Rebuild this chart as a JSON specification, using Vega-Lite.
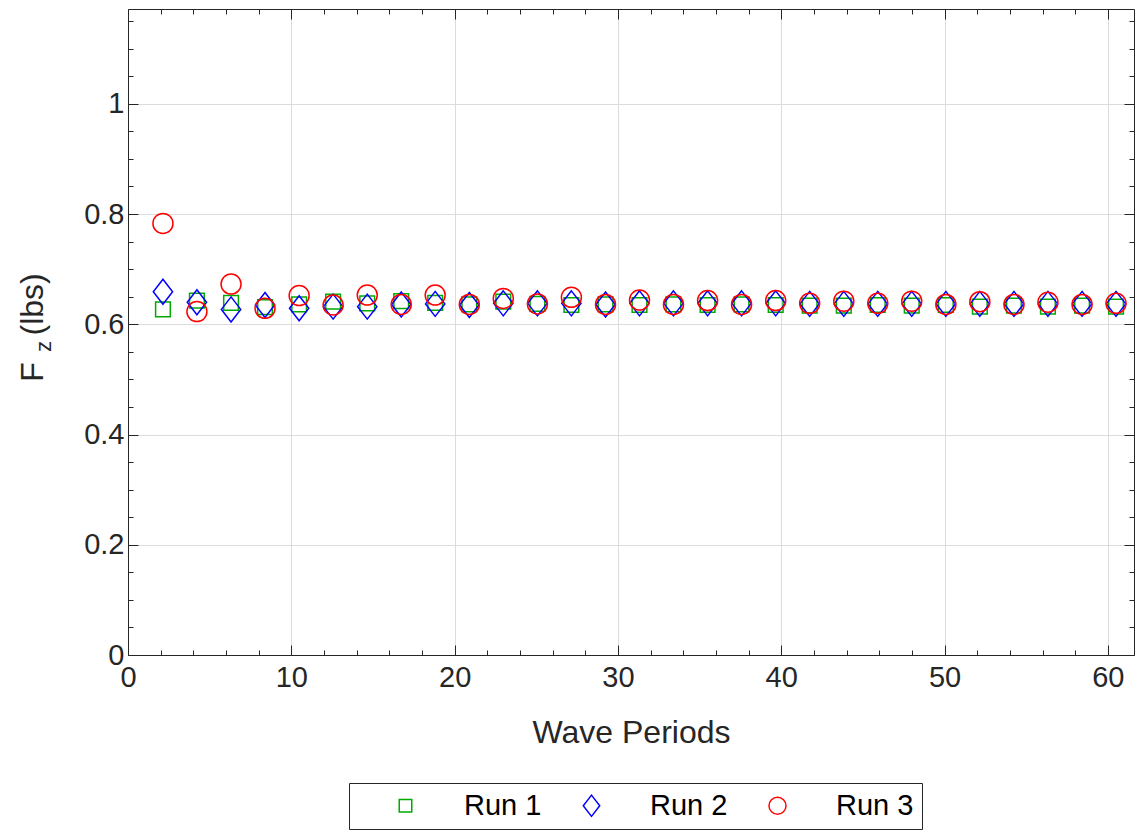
{
  "$schema": "https://vega.github.io/schema/vega-lite/v6.json",
  "width": 1006,
  "height": 646,
  "autosize": "none",
  "padding": {"left": 128, "top": 9, "right": 1, "bottom": 176},
  "background": "white",
  "config": {"font": "Liberation Sans", "view": {"stroke": null}},
  "datasets": {
    "runs": [
      {"period": 2.14, "run": "Run 1", "fz": 0.627}, {"period": 4.22, "run": "Run 1", "fz": 0.643}, {"period": 6.31, "run": "Run 1", "fz": 0.639}, {"period": 8.39, "run": "Run 1", "fz": 0.631}, {"period": 10.48, "run": "Run 1", "fz": 0.636}, {"period": 12.56, "run": "Run 1", "fz": 0.641}, {"period": 14.65, "run": "Run 1", "fz": 0.638}, {"period": 16.73, "run": "Run 1", "fz": 0.642}, {"period": 18.81, "run": "Run 1", "fz": 0.639}, {"period": 20.90, "run": "Run 1", "fz": 0.636}, {"period": 22.98, "run": "Run 1", "fz": 0.641}, {"period": 25.07, "run": "Run 1", "fz": 0.637}, {"period": 27.15, "run": "Run 1", "fz": 0.635}, {"period": 29.24, "run": "Run 1", "fz": 0.636}, {"period": 31.32, "run": "Run 1", "fz": 0.635}, {"period": 33.40, "run": "Run 1", "fz": 0.636}, {"period": 35.49, "run": "Run 1", "fz": 0.635}, {"period": 37.57, "run": "Run 1", "fz": 0.636}, {"period": 39.66, "run": "Run 1", "fz": 0.635}, {"period": 41.74, "run": "Run 1", "fz": 0.634}, {"period": 43.83, "run": "Run 1", "fz": 0.634}, {"period": 45.91, "run": "Run 1", "fz": 0.635}, {"period": 47.99, "run": "Run 1", "fz": 0.634}, {"period": 50.08, "run": "Run 1", "fz": 0.635}, {"period": 52.16, "run": "Run 1", "fz": 0.632}, {"period": 54.25, "run": "Run 1", "fz": 0.634}, {"period": 56.33, "run": "Run 1", "fz": 0.632}, {"period": 58.42, "run": "Run 1", "fz": 0.634}, {"period": 60.50, "run": "Run 1", "fz": 0.632},
      {"period": 2.14, "run": "Run 2", "fz": 0.659}, {"period": 4.22, "run": "Run 2", "fz": 0.640}, {"period": 6.31, "run": "Run 2", "fz": 0.627}, {"period": 8.39, "run": "Run 2", "fz": 0.635}, {"period": 10.48, "run": "Run 2", "fz": 0.629}, {"period": 12.56, "run": "Run 2", "fz": 0.632}, {"period": 14.65, "run": "Run 2", "fz": 0.632}, {"period": 16.73, "run": "Run 2", "fz": 0.636}, {"period": 18.81, "run": "Run 2", "fz": 0.637}, {"period": 20.90, "run": "Run 2", "fz": 0.635}, {"period": 22.98, "run": "Run 2", "fz": 0.638}, {"period": 25.07, "run": "Run 2", "fz": 0.638}, {"period": 27.15, "run": "Run 2", "fz": 0.638}, {"period": 29.24, "run": "Run 2", "fz": 0.636}, {"period": 31.32, "run": "Run 2", "fz": 0.638}, {"period": 33.40, "run": "Run 2", "fz": 0.638}, {"period": 35.49, "run": "Run 2", "fz": 0.638}, {"period": 37.57, "run": "Run 2", "fz": 0.638}, {"period": 39.66, "run": "Run 2", "fz": 0.638}, {"period": 41.74, "run": "Run 2", "fz": 0.637}, {"period": 43.83, "run": "Run 2", "fz": 0.637}, {"period": 45.91, "run": "Run 2", "fz": 0.637}, {"period": 47.99, "run": "Run 2", "fz": 0.637}, {"period": 50.08, "run": "Run 2", "fz": 0.637}, {"period": 52.16, "run": "Run 2", "fz": 0.637}, {"period": 54.25, "run": "Run 2", "fz": 0.637}, {"period": 56.33, "run": "Run 2", "fz": 0.637}, {"period": 58.42, "run": "Run 2", "fz": 0.637}, {"period": 60.50, "run": "Run 2", "fz": 0.637},
      {"period": 2.14, "run": "Run 3", "fz": 0.783}, {"period": 4.22, "run": "Run 3", "fz": 0.623}, {"period": 6.31, "run": "Run 3", "fz": 0.673}, {"period": 8.39, "run": "Run 3", "fz": 0.629}, {"period": 10.48, "run": "Run 3", "fz": 0.652}, {"period": 12.56, "run": "Run 3", "fz": 0.635}, {"period": 14.65, "run": "Run 3", "fz": 0.653}, {"period": 16.73, "run": "Run 3", "fz": 0.636}, {"period": 18.81, "run": "Run 3", "fz": 0.653}, {"period": 20.90, "run": "Run 3", "fz": 0.636}, {"period": 22.98, "run": "Run 3", "fz": 0.647}, {"period": 25.07, "run": "Run 3", "fz": 0.637}, {"period": 27.15, "run": "Run 3", "fz": 0.649}, {"period": 29.24, "run": "Run 3", "fz": 0.636}, {"period": 31.32, "run": "Run 3", "fz": 0.644}, {"period": 33.40, "run": "Run 3", "fz": 0.636}, {"period": 35.49, "run": "Run 3", "fz": 0.643}, {"period": 37.57, "run": "Run 3", "fz": 0.636}, {"period": 39.66, "run": "Run 3", "fz": 0.643}, {"period": 41.74, "run": "Run 3", "fz": 0.638}, {"period": 43.83, "run": "Run 3", "fz": 0.642}, {"period": 45.91, "run": "Run 3", "fz": 0.638}, {"period": 47.99, "run": "Run 3", "fz": 0.642}, {"period": 50.08, "run": "Run 3", "fz": 0.636}, {"period": 52.16, "run": "Run 3", "fz": 0.641}, {"period": 54.25, "run": "Run 3", "fz": 0.636}, {"period": 56.33, "run": "Run 3", "fz": 0.640}, {"period": 58.42, "run": "Run 3", "fz": 0.636}, {"period": 60.50, "run": "Run 3", "fz": 0.638}
    ]
  },
  "data": {"name": "runs"},
  "layer": [
    {
      "mark": {"type": "point", "filled": false, "strokeWidth": 1.5, "size": 400, "opacity": 1},
      "encoding": {
        "x": {
          "field": "period", "type": "quantitative",
          "scale": {"domain": [0, 61.6], "nice": false, "zero": false},
          "axis": {
            "orient": "bottom",
            "values": [0,2,4,6,8,10,12,14,16,18,20,22,24,26,28,30,32,34,36,38,40,42,44,46,48,50,52,54,56,58,60],
            "labelExpr": "datum.value % 10 === 0 ? format(datum.value, '~g') : ''",
            "tickSize": {"condition": {"test": "datum.value % 10 === 0", "value": -10}, "value": -5},
            "tickColor": "#262626", "tickWidth": 1,
            "domainColor": "#262626", "domainWidth": 1,
            "grid": true, "gridColor": "#dcdcdc",
            "gridOpacity": {"condition": {"test": "datum.value % 10 === 0", "value": 1}, "value": 0},
            "labelFontSize": 29, "labelColor": "#262626", "labelPadding": 18, "labelFlush": false, "labelOverlap": false,
            "title": "Wave Periods", "titleFontSize": 32, "titleFontWeight": "normal", "titleColor": "#262626", "titlePadding": 20
          }
        },
        "y": {
          "field": "fz", "type": "quantitative",
          "scale": {"domain": [0, 1.172], "nice": false},
          "axis": {
            "orient": "left",
            "values": [0,0.05,0.1,0.15,0.2,0.25,0.3,0.35,0.4,0.45,0.5,0.55,0.6,0.65,0.7,0.75,0.8,0.85,0.9,0.95,1,1.05,1.1,1.15],
            "labelExpr": "round(datum.value * 100) % 20 === 0 ? format(datum.value, '~g') : ''",
            "tickSize": {"condition": {"test": "round(datum.value * 100) % 20 === 0", "value": -10}, "value": -5},
            "tickColor": "#262626", "tickWidth": 1,
            "domainColor": "#262626", "domainWidth": 1,
            "grid": true, "gridColor": "#dcdcdc",
            "gridOpacity": {"condition": {"test": "round(datum.value * 100) % 20 === 0", "value": 1}, "value": 0},
            "labelFontSize": 29, "labelColor": "#262626", "labelPadding": 14, "labelFlush": false, "labelOverlap": false,
            "title": "F\u00a0\u00a0\u00a0(lbs)", "titleFontSize": 32, "titleFontWeight": "normal", "titleColor": "#262626",
            "titleX": -86, "titleY": 318, "titleAngle": -90, "titleAlign": "center", "titleBaseline": "alphabetic"
          }
        },
        "color": {
          "field": "run", "type": "nominal",
          "scale": {"domain": ["Run 1", "Run 2", "Run 3"], "range": ["#00aa00", "#0000ff", "#ff0000"]},
          "legend": {
            "orient": "none", "legendX": 221, "legendY": 774, "direction": "horizontal", "title": null,
            "strokeColor": "#262626", "fillColor": "white", "padding": 8,
            "labelFontSize": 29, "labelColor": "black", "labelOffset": 44, "columnPadding": 1,
            "symbolSize": 290, "symbolStrokeWidth": 1.5, "symbolOffset": 34
          }
        },
        "shape": {
          "field": "run", "type": "nominal",
          "scale": {"domain": ["Run 1", "Run 2", "Run 3"], "range": ["M-0.735,-0.735H0.735V0.735H-0.735Z", "M0,-1.25L0.965,0L0,1.25L-0.965,0Z", "M1,0A1,1,0,1,1,-1,0A1,1,0,1,1,1,0Z"]},
          "legend": {
            "orient": "none", "legendX": 221, "legendY": 774, "direction": "horizontal", "title": null,
            "strokeColor": "#262626", "fillColor": "white", "padding": 8,
            "labelFontSize": 29, "labelColor": "black", "labelOffset": 44, "columnPadding": 1,
            "symbolSize": 290, "symbolStrokeWidth": 1.5, "symbolOffset": 34
          }
        }
      }
    },
    {
      "mark": {"type": "point", "opacity": 0},
      "encoding": {
        "x": {
          "field": "period", "type": "quantitative",
          "axis": {
            "orient": "top",
            "values": [0,2,4,6,8,10,12,14,16,18,20,22,24,26,28,30,32,34,36,38,40,42,44,46,48,50,52,54,56,58,60],
            "labels": false, "grid": false, "title": null,
            "tickSize": {"condition": {"test": "datum.value % 10 === 0", "value": -10}, "value": -5},
            "tickColor": "#262626", "domainColor": "#262626"
          }
        },
        "y": {
          "field": "fz", "type": "quantitative",
          "axis": {
            "orient": "right",
            "values": [0,0.05,0.1,0.15,0.2,0.25,0.3,0.35,0.4,0.45,0.5,0.55,0.6,0.65,0.7,0.75,0.8,0.85,0.9,0.95,1,1.05,1.1,1.15],
            "labels": false, "grid": false,
            "tickSize": {"condition": {"test": "round(datum.value * 100) % 20 === 0", "value": -10}, "value": -5},
            "tickColor": "#262626", "domainColor": "#262626",
            "title": "z", "titleFontSize": 22, "titleFontWeight": "normal", "titleColor": "#262626",
            "titleX": -1084, "titleY": 337, "titleAngle": -90, "titleAlign": "center", "titleBaseline": "alphabetic"
          }
        }
      }
    }
  ],
  "resolve": {"axis": {"x": "independent", "y": "independent"}}
}
